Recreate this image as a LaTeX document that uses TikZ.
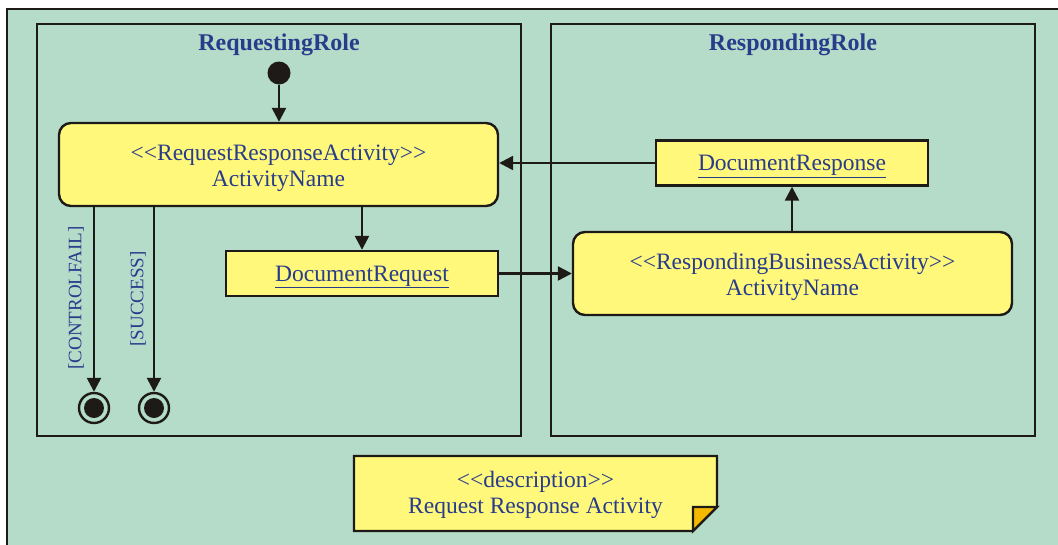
\documentclass[tikz,border=0pt]{standalone}
\usepackage{fontspec}
\setmainfont{Liberation Serif}
\usetikzlibrary{arrows.meta,shapes.misc}
\definecolor{bggreen}{HTML}{B4DCC8}
\definecolor{boxyellow}{HTML}{FFF87A}
\definecolor{txtblue}{HTML}{283C8C}
\definecolor{foldorange}{HTML}{F5B800}
\definecolor{linecol}{HTML}{1E1A18}
\newcommand{\stL}{<\kern0pt<}
\newcommand{\stR}{>\kern0pt>}
\newcommand{\dn}[1]{\rule{0pt}{#1}}
\tikzset{
  lane/.style={draw=linecol, line width=2.4pt},
  actbox/.style={draw=linecol, line width=2.4pt, fill=boxyellow, rounded corners=12pt, minimum width=439pt, minimum height=83pt, align=center, text=txtblue, font=\fontsize{23.5}{26}\selectfont, inner sep=0pt},
  docbox/.style={draw=linecol, line width=2.4pt, fill=boxyellow, minimum width=272pt, minimum height=45pt, text=txtblue, font=\fontsize{23.5}{26}\selectfont, inner sep=0pt},
  title/.style={text=txtblue, font=\fontsize{24}{26}\selectfont\bfseries},
  guard/.style={text=txtblue, font=\fontsize{19}{20}\selectfont, rotate=90},
  arr/.style={draw=linecol, line width=2.4pt, -{Triangle[length=14pt,width=14pt]}},
  initst/.style={circle, fill=linecol, minimum size=23pt, inner sep=0pt},
  finst/.style={circle, draw=linecol, line width=2.4pt, fill=bggreen, minimum size=30pt, inner sep=0pt},
  findot/.style={circle, fill=linecol, minimum size=20pt, inner sep=0pt}
}
\begin{document}
\begin{tikzpicture}[x=1pt,y=-1pt]
\useasboundingbox (0,0) rectangle (1058,544);
\fill[white] (0,0) rectangle (1058,544);
% outer frame
\fill[bggreen] (7,9) rectangle (1075,560);
\draw[linecol, line width=2.6pt] (1075,9) -- (7,9) -- (7,560);
% lanes
\draw[lane] (37,24) rectangle (521,436);
\draw[lane] (551,24) rectangle (1035,436);
\node[title] (t1) at (279,45) {RequestingRole};
\node[title] (t2) at (793,45) {RespondingRole};
% nodes
\node[initst] (init) at (279,73) {};
\node[actbox] (act) at (278.5,164.5) {\dn{24pt}\stL RequestResponseActivity\stR\\ActivityName};
\node[docbox] (req) at (362,273.5) {\dn{22.5pt}\underline{DocumentRequest}};
\node[docbox] (resp) at (792,163) {\dn{22.5pt}\underline{DocumentResponse}};
\node[actbox] (ract) at (792.5,273.5) {\dn{24pt}\stL RespondingBusinessActivity\stR\\ActivityName};
\node[finst] (f1) at (94,408) {};
\node[findot] (f1d) at (f1) {};
\node[finst] (f2) at (154,408) {};
\node[findot] (f2d) at (f2) {};
% connectors
\draw[arr] (init) -- (act.north -| init);
\draw[arr] (act.south -| req.north) -- (req.north);
\draw[arr] (req.east) -- (ract.west |- req.east);
\draw[arr] (ract.north -| resp.south) -- (resp.south);
\draw[arr] (resp.west) -- (act.east |- resp.west);
\draw[arr] (act.south -| f1) -- (f1.north);
\draw[arr] (act.south -| f2) -- (f2.north);
\node[guard] (g1) at (76,298) {[CONTROLFAIL]};
\node[guard] (g2) at (138,299) {[SUCCESS]};
% note
\draw[linecol, line width=2.4pt, fill=boxyellow] (354,456) -- (717,456) -- (717,507) -- (693,531) -- (354,531) -- cycle;
\draw[linecol, line width=2.4pt, fill=foldorange] (717,507) -- (693,507) -- (693,531) -- cycle;
\node[text=txtblue, font=\fontsize{23.5}{26}\selectfont, align=center] (note) at (535.5,492) {\dn{23pt}\stL description\stR\\Request Response Activity};
\end{tikzpicture}
\end{document}
